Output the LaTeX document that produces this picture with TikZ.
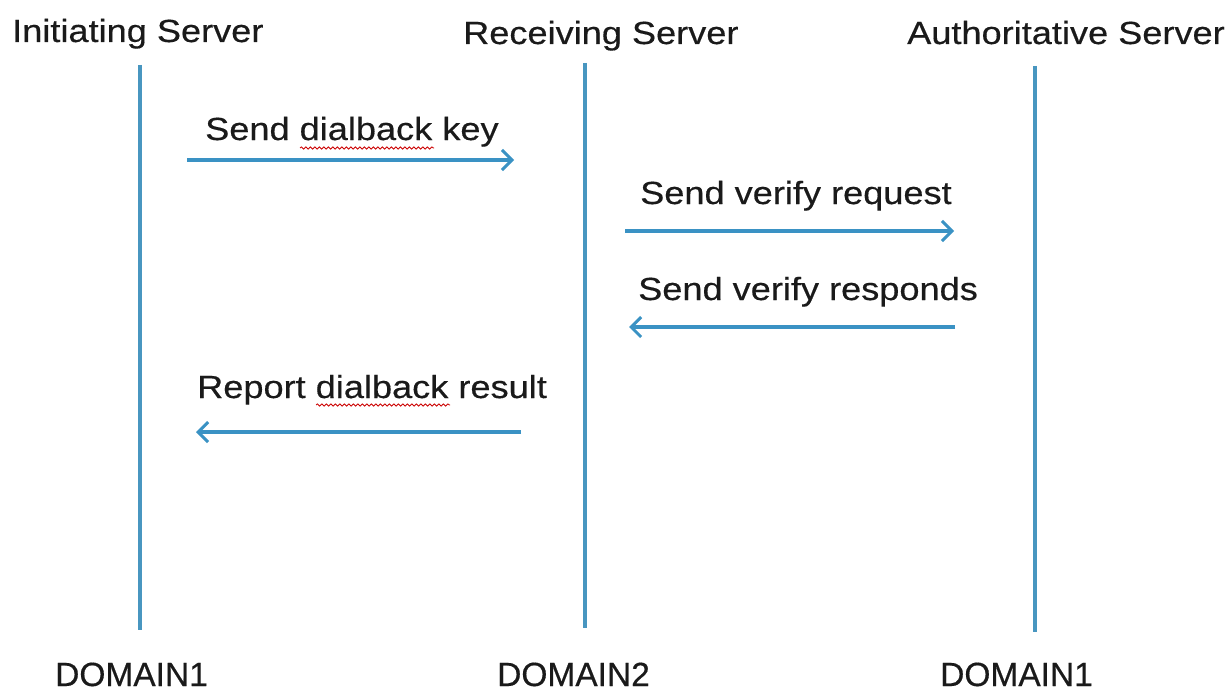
\documentclass[tikz,border=0pt]{standalone}
\usepackage{fontspec}
\setmainfont{Liberation Sans}[FakeStretch=1.13,FakeBold=0.4]
\newfontfamily\domfont{Liberation Sans}[FakeStretch=1.0,FakeBold=0.4]
\usetikzlibrary{arrows.meta,decorations.pathmorphing}
\definecolor{lifeblue}{RGB}{72,150,192}
\definecolor{arrowblue}{RGB}{58,146,196}
\definecolor{txt}{RGB}{26,26,26}
\tikzset{
  lbl/.style={anchor=base west,inner sep=0pt,text=txt,font=\fontsize{32}{38}\selectfont},
  dom/.style={anchor=base west,inner sep=0pt,text=txt,font=\domfont\fontsize{33.5}{40}\selectfont},
  lifeline/.style={draw=lifeblue,line width=3.4pt},
  msg/.style={draw=arrowblue,line width=3.2pt,-{Straight Barb[length=10pt,width=20pt,line width=3pt]}},
  squiggle/.style={draw=red!80!black,line width=0.8pt,decorate,decoration={snake,amplitude=1.1pt,segment length=4.5pt}}
}
\begin{document}
\begin{tikzpicture}[x=1pt,y=-1pt]
\useasboundingbox[fill=white] (0,0) rectangle (1231,693);
% titles
\node[lbl] (tI) at (12,42) {Initiating Server};
\node[lbl] (tR) at (463,44) {Receiving Server};
\node[lbl] (tA) at (907,44) {Authoritative Server};
% bottom labels
\node[dom] (dI) at (55,686) {DOMAIN1};
\node[dom] (dR) at (497,686) {DOMAIN2};
\node[dom] (dA) at (940,686) {DOMAIN1};
% lifelines
\coordinate (lI1) at (140,65);  \coordinate (lI2) at (140,630);
\coordinate (lR1) at (585,63);  \coordinate (lR2) at (585,628);
\coordinate (lA1) at (1035,66); \coordinate (lA2) at (1035,632);
\draw[lifeline] (lI1) -- (lI2);
\draw[lifeline] (lR1) -- (lR2);
\draw[lifeline] (lA1) -- (lA2);
% message end points
\coordinate (m1a) at (187,160); \coordinate (m1b) at (514,160);
\coordinate (m2a) at (625,231); \coordinate (m2b) at (954,231);
\coordinate (m3a) at (955,327); \coordinate (m3b) at (629,327);
\coordinate (m4a) at (521,432); \coordinate (m4b) at (196,432);
\draw[msg] (m1a) -- (m1b);
\draw[msg] (m2a) -- (m2b);
\draw[msg] (m3a) -- (m3b);
\draw[msg] (m4a) -- (m4b);
% message labels
\node[lbl] (l1) at (205,140) {Send dialback key};
\node[lbl] (l2) at (640,204) {Send verify request};
\node[lbl] (l3) at (638,300) {Send verify responds};
\node[lbl] (l4) at (197,398) {Report dialback result};
% spell-check underlines
\draw[squiggle] (300,148) -- (434,148);
\draw[squiggle] (316,405) -- (450,405);
\end{tikzpicture}
\end{document}
